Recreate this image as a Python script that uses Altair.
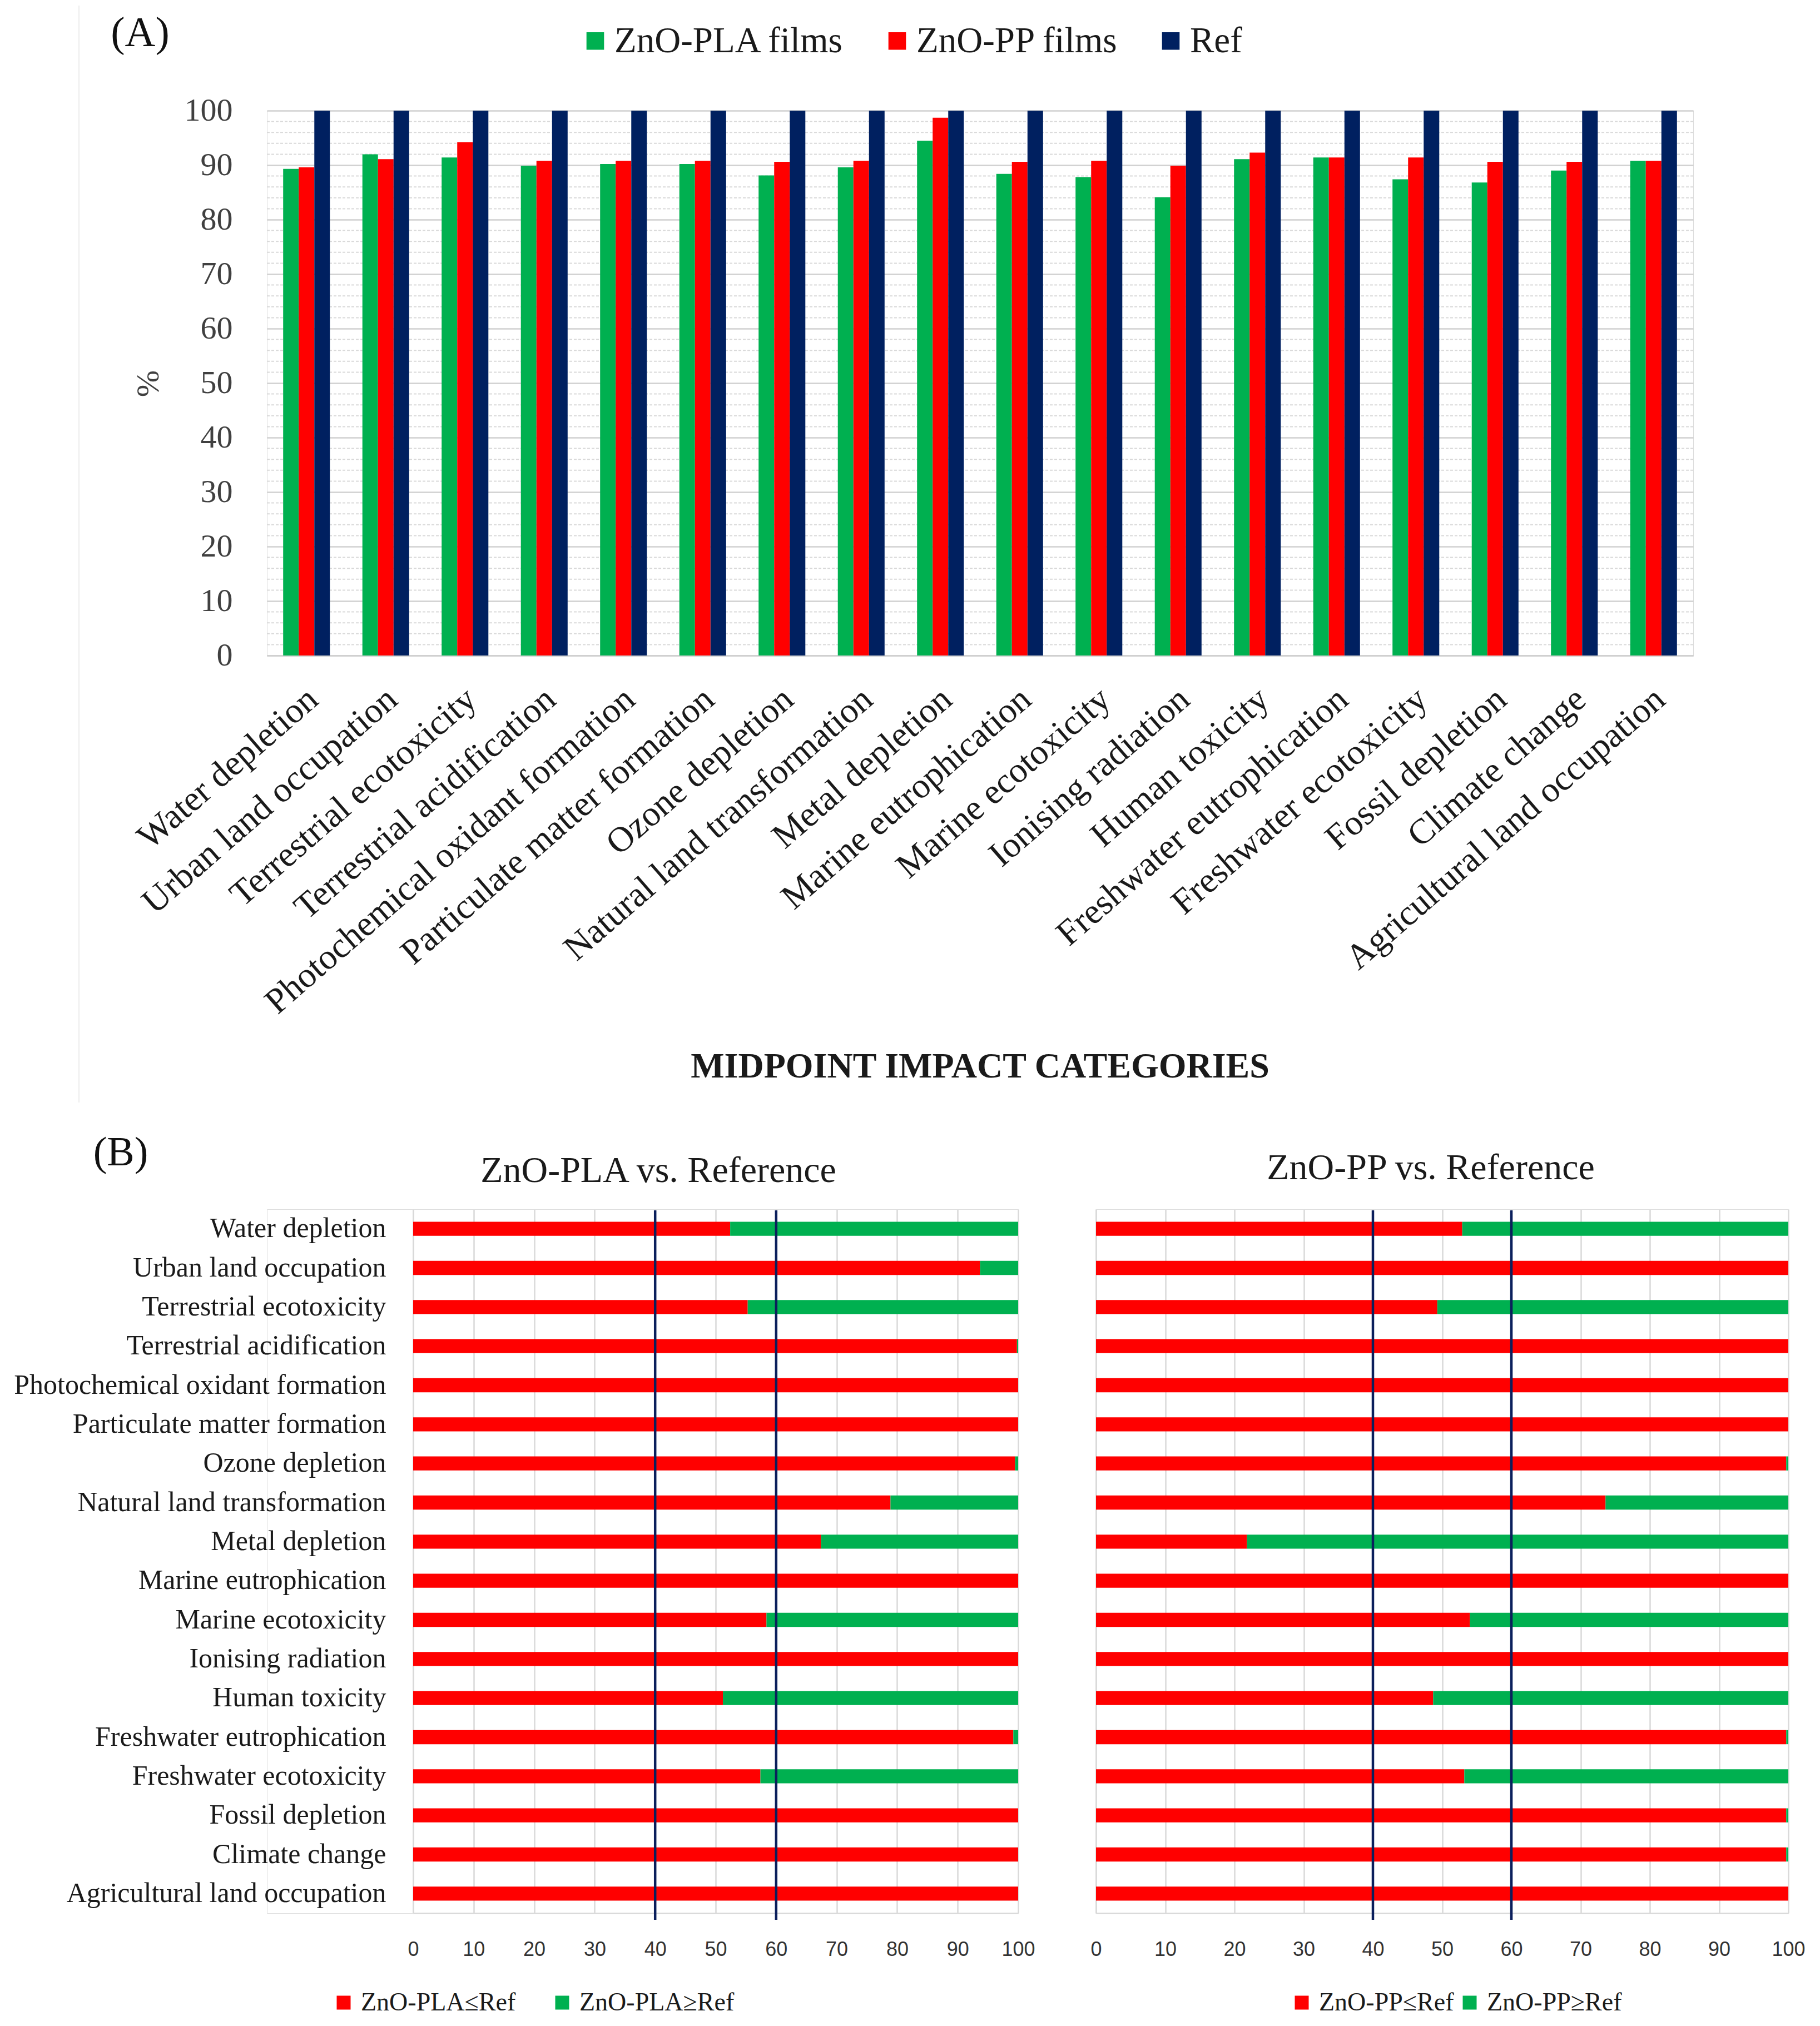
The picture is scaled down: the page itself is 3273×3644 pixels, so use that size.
import altair as alt
import pandas as pd

# ---------------- data ----------------
cats = ["Water depletion", "Urban land occupation", "Terrestrial ecotoxicity",
        "Terrestrial acidification", "Photochemical oxidant formation",
        "Particulate matter formation", "Ozone depletion", "Natural land transformation",
        "Metal depletion", "Marine eutrophication", "Marine ecotoxicity",
        "Ionising radiation", "Human toxicity", "Freshwater eutrophication",
        "Freshwater ecotoxicity", "Fossil depletion", "Climate change",
        "Agricultural land occupation"]

pla_films = [89.3, 92.0, 91.4, 89.9, 90.2, 90.2, 88.1, 89.6, 94.5, 88.4, 87.8, 84.1,
             91.1, 91.4, 87.4, 86.8, 89.0, 90.8]
pp_films = [89.6, 91.1, 94.2, 90.8, 90.8, 90.8, 90.6, 90.8, 98.7, 90.6, 90.8, 89.9,
            92.3, 91.4, 91.4, 90.6, 90.6, 90.8]
ref_vals = [100.0] * 18

# share (%) of runs in which the film is <= reference (rest is >= reference)
pla_le_ref = [52.4, 93.7, 55.3, 99.8, 100, 100, 99.5, 78.9, 67.4, 100, 58.4, 100,
              51.2, 99.2, 57.4, 100, 100, 100]
pp_le_ref = [52.9, 100, 49.3, 100, 100, 100, 99.7, 73.6, 21.8, 100, 54.0, 100,
             48.7, 99.7, 53.2, 99.7, 99.7, 100]

series_a = ["ZnO-PLA films", "ZnO-PP films", "Ref"]
colors_a = ["#00B050", "#FF0000", "#002060"]
kinds_pla = ["ZnO-PLA\u2264Ref", "ZnO-PLA\u2265Ref"]
kinds_pp = ["ZnO-PP\u2264Ref", "ZnO-PP\u2265Ref"]
threshold_lines = [40, 60]
ticks_10 = list(range(0, 101, 10))
minor_ticks = [v for v in range(2, 100, 2) if v % 10]

SERIF = "Liberation Serif"
SANS = "Liberation Sans"
dummy = pd.DataFrame({"d": [0]})

# layout anchors (pixels relative to each panel's origin)
LEFT_EXT = 471     # space left of the common origin
TOP_EXT = 189      # space above each row's origin
A_BOTTOM = 1784    # bottom of panel A's cell

# ---------------- panel A ----------------
WA, HA = 2565, 980
rows = []
for c, a, b, r in zip(cats, pla_films, pp_films, ref_vals):
    rows.append({"cat": c, "series": series_a[0], "val": a})
    rows.append({"cat": c, "series": series_a[1], "val": b})
    rows.append({"cat": c, "series": series_a[2], "val": r})
dfa = pd.DataFrame(rows)

y_axis_a = alt.Axis(values=ticks_10, title=None, grid=True, gridColor="#d0d0d0",
                    gridWidth=2.5, domain=False, ticks=False, tickSize=0,
                    labelFont=SERIF, labelFontSize=58, labelColor="#404040",
                    labelPadding=62)
y_a = alt.Y("val:Q", scale=alt.Scale(domain=[0, 100], nice=False), axis=y_axis_a)

x_a = alt.X("cat:N", sort=cats,
            scale=alt.Scale(paddingInner=0.41, paddingOuter=0.205),
            axis=alt.Axis(title=None, labelAngle=319, labelAlign="right",
                          labelBaseline="middle", labelFont=SERIF, labelFontSize=64,
                          labelColor="#1a1a1a", labelLimit=3000, labelPadding=70,
                          labelOffset=12, ticks=False, tickSize=0, domain=True,
                          domainColor="#d0d0d0", domainWidth=3, grid=False,
                          labelOverlap=False))

leg_a = alt.Legend(orient="none", legendX=558, legendY=-158, direction="horizontal",
                   title=None, symbolType="square", symbolSize=1000, symbolStrokeWidth=0,
                   labelFont=SERIF, labelFontSize=65, labelColor="#1a1a1a",
                   labelOffset=2, columnPadding=62, padding=0, labelLimit=3000)

minor_a = alt.Chart(pd.DataFrame({"val": minor_ticks})).mark_rule(
    color="#d9d9d9", strokeWidth=2, strokeDash=[5, 3]).encode(y=y_a)

bars_a = alt.Chart(dfa).mark_bar().encode(
    x=x_a,
    xOffset=alt.XOffset("series:N", sort=series_a,
                        scale=alt.Scale(paddingInner=0, paddingOuter=0)),
    y=y_a,
    color=alt.Color("series:N", sort=series_a,
                    scale=alt.Scale(domain=series_a, range=colors_a), legend=leg_a),
)

label_a = alt.Chart(dummy).mark_text(text="(A)", font=SERIF, fontSize=76,
                                     color="#111111", baseline="middle",
                                     align="center").encode(
    x=alt.value(-228), y=alt.value(-139))
pct_a = alt.Chart(dummy).mark_text(text="%", font=SERIF, fontSize=58, angle=270,
                                   color="#404040", baseline="middle",
                                   align="center").encode(
    x=alt.value(-212), y=alt.value(491))
xtitle_a = alt.Chart(dummy).mark_text(text="MIDPOINT IMPACT CATEGORIES", font=SERIF,
                                      fontSize=64, fontWeight="bold", color="#1a1a1a",
                                      baseline="middle", align="center").encode(
    x=alt.value(WA / 2), y=alt.value(1720))
frame_a = alt.Chart(dummy).mark_rule(color="#ededed", strokeWidth=2).encode(
    x=alt.value(-338), x2=alt.value(-338), y=alt.value(-TOP_EXT),
    y2=alt.value(A_BOTTOM))
bound_a = alt.Chart(dummy).mark_rule(color="white", strokeWidth=1).encode(
    x=alt.value(-LEFT_EXT), x2=alt.value(-LEFT_EXT), y=alt.value(-TOP_EXT),
    y2=alt.value(A_BOTTOM))

panel_a = alt.layer(minor_a, bars_a, label_a, pct_a, xtitle_a, frame_a,
                    bound_a).properties(width=WA, height=HA)

# ---------------- panel B ----------------
HB = 1266


def panel_b(le_vals, kinds, width, x0, title, title_x, title_y, show_labels,
            leg_x, col_pad, extra=None):
    rows = []
    for c, v in zip(cats, le_vals):
        rows.append({"cat": c, "kind": kinds[0], "lo": 0.0, "hi": v})
        if v < 100:
            rows.append({"cat": c, "kind": kinds[1], "lo": v, "hi": 100.0})
    dfb = pd.DataFrame(rows)

    x_axis = alt.Axis(values=ticks_10, title=None, grid=True, gridColor="#d9d9d9",
                      gridWidth=2.5, domain=True, domainColor="#d9d9d9",
                      domainWidth=2.5, ticks=False, tickSize=0, labelFont=SANS,
                      labelFontSize=36, labelColor="#333333", labelPadding=48,
                      labelFlush=False, labelOverlap=False)
    x_enc = alt.X("lo:Q", scale=alt.Scale(domain=[0, 100], nice=False,
                                          range=[x0, width]), axis=x_axis)
    y_axis = alt.Axis(title=None, labels=show_labels, ticks=False, tickSize=0,
                      domain=True, domainColor="#d9d9d9", domainWidth=2.5,
                      labelFont=SERIF, labelFontSize=50, labelColor="#1a1a1a",
                      labelPadding=49, labelLimit=3000, grid=False, offset=-x0)
    leg = alt.Legend(orient="none", legendX=leg_x, legendY=1404, direction="horizontal",
                     title=None, symbolType="square", symbolSize=625,
                     symbolStrokeWidth=0, labelFont=SERIF, labelFontSize=46,
                     labelColor="#1a1a1a", labelOffset=8, columnPadding=col_pad,
                     padding=0, labelLimit=3000)

    bars = alt.Chart(dfb).mark_bar().encode(
        y=alt.Y("cat:N", sort=cats,
                scale=alt.Scale(paddingInner=0.64, paddingOuter=0.32), axis=y_axis),
        x=x_enc,
        x2="hi:Q",
        color=alt.Color("kind:N", sort=kinds,
                        scale=alt.Scale(domain=kinds, range=["#FF0000", "#00B050"]),
                        legend=leg),
    )
    lines = alt.Chart(pd.DataFrame({"lo": threshold_lines})).mark_rule(
        color="#0B1F5C", strokeWidth=4.5).encode(
        x=x_enc, y=alt.value(2), y2=alt.value(HB + 12))
    ttl = alt.Chart(dummy).mark_text(text=title, font=SERIF, fontSize=66,
                                     color="#1a1a1a", baseline="middle",
                                     align="center").encode(
        x=alt.value(title_x), y=alt.value(title_y))
    layers = [bars, lines, ttl]
    if extra:
        layers += extra
    return alt.layer(*layers).properties(width=width, height=HB)


B1_X0 = 263   # B1's plot starts 263 px right of panel A's plot
label_b = alt.Chart(dummy).mark_text(text="(B)", font=SERIF, fontSize=74,
                                     color="#111111", baseline="middle",
                                     align="center").encode(
    x=alt.value(-526 + B1_X0), y=alt.value(-101))
bound_b = alt.Chart(dummy).mark_rule(color="white", strokeWidth=1).encode(
    x=alt.value(-LEFT_EXT), x2=alt.value(-LEFT_EXT), y=alt.value(-TOP_EXT),
    y2=alt.value(-TOP_EXT + 4))

b1 = panel_b(pla_le_ref, kinds_pla, B1_X0 + 1088, B1_X0, "ZnO-PLA vs. Reference",
             441 + B1_X0, -69, True, -148 + B1_X0, 60, extra=[label_b, bound_b])
b2 = panel_b(pp_le_ref, kinds_pp, 1245, 0, "ZnO-PP vs. Reference", 602, -74, False,
             347, 5)

panel_b_row = alt.hconcat(b1, b2, spacing=140, bounds="flush").resolve_scale(
    color="independent", x="independent", y="independent").resolve_legend(
    color="independent")

chart = alt.vconcat(panel_a, panel_b_row, spacing=0, bounds="full").resolve_scale(
    color="independent", x="independent", y="independent").resolve_legend(
    color="independent").properties(padding=0).configure_view(
    stroke=None).configure(background="white")

chart.save("out.html", embed_options={"renderer": "svg", "actions": False})
